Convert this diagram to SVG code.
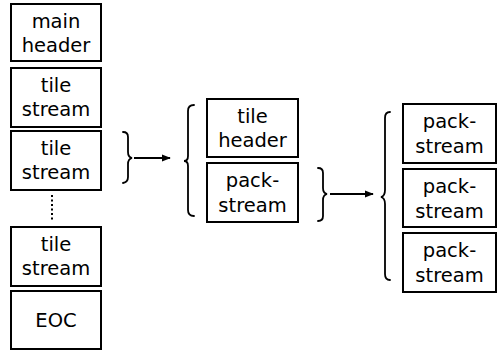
<svg xmlns="http://www.w3.org/2000/svg" width="503" height="351" viewBox="0 0 503 351">
<style>
.box{fill:#fff;stroke:#000;stroke-width:2}
.t{font-family:"DejaVu Sans",sans-serif;font-size:19.5px;fill:#000;text-anchor:middle}
.br{fill:none;stroke:#000;stroke-width:1.8;stroke-linecap:round}
.ar{fill:none;stroke:#000;stroke-width:2}
</style>
<defs>
<marker id="ah" viewBox="0 0 10 10" refX="9" refY="5" markerWidth="4.5" markerHeight="4.5" orient="auto" markerUnits="strokeWidth">
<path d="M0,1 L10,5 L0,9 Z" fill="#000"/>
</marker>
</defs>
<rect width="503" height="351" fill="#fff"/>
<g id="main-header"><rect class="box" x="11" y="4" width="90" height="57"/><text class="t" x="56" y="28">main</text><text class="t" x="56" y="52">header</text></g>
<g id="tile-stream-1"><rect class="box" x="11" y="68" width="90" height="59"/><text class="t" x="56" y="92">tile</text><text class="t" x="56" y="116">stream</text></g>
<g id="tile-stream-2"><rect class="box" x="11" y="131" width="90" height="59"/><text class="t" x="56" y="155">tile</text><text class="t" x="56" y="179">stream</text></g>
<g id="dots"><line x1="52" y1="195" x2="52" y2="220" stroke="#000" stroke-width="2" stroke-dasharray="2,2.5"/></g>
<g id="tile-stream-n"><rect class="box" x="11" y="227" width="90" height="59"/><text class="t" x="56" y="251">tile</text><text class="t" x="56" y="275">stream</text></g>
<g id="eoc"><rect class="box" x="11" y="291" width="90" height="58"/><text class="t" x="56" y="327">EOC</text></g>
<g id="tile-header"><rect class="box" x="207" y="99" width="91" height="58"/><text class="t" x="252.5" y="123">tile</text><text class="t" x="252.5" y="147">header</text></g>
<g id="pack-stream-m"><rect class="box" x="207" y="163" width="91" height="59"/><text class="t" x="252.5" y="187">pack-</text><text class="t" x="252.5" y="212">stream</text></g>
<g id="pack-stream-1"><rect class="box" x="403" y="104" width="93" height="59"/><text class="t" x="449.5" y="128">pack-</text><text class="t" x="449.5" y="153">stream</text></g>
<g id="pack-stream-2"><rect class="box" x="403" y="169" width="93" height="58"/><text class="t" x="449.5" y="193">pack-</text><text class="t" x="449.5" y="218">stream</text></g>
<g id="pack-stream-3"><rect class="box" x="403" y="233" width="93" height="59"/><text class="t" x="449.5" y="257">pack-</text><text class="t" x="449.5" y="282">stream</text></g>
<g id="connectors">
<path class="br" d="M123,132 Q128,132 128,137 L128,152 Q128,157 132,158 Q128,159 128,164 L128,177 Q128,182 123,183"/>
<line class="ar" x1="134" y1="158" x2="170" y2="158" marker-end="url(#ah)"/>
<path class="br" d="M194,105 Q188,105 188,111 L188,156 Q188,161 184,161 Q188,161 188,166 L188,210 Q188,216 194,216"/>
<path class="br" d="M318,168 Q323,168 323,173 L323,188 Q323,193 327,194 Q323,195 323,200 L323,216 Q323,221 318,221"/>
<line class="ar" x1="330" y1="194" x2="373" y2="194" marker-end="url(#ah)"/>
<path class="br" d="M390,112 Q385,112 385,118 L385,190 Q385,196 381,197 Q385,198 385,204 L385,274 Q385,280 390,280"/>
</g>
</svg>
